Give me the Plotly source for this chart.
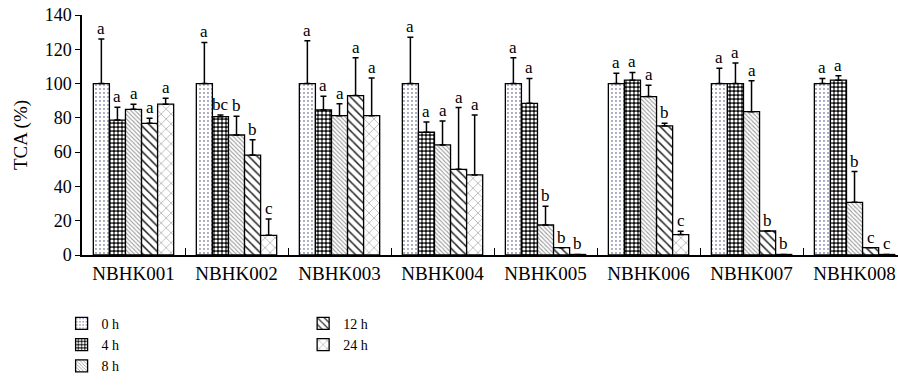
import plotly.graph_objects as go

cats = ["NBHK001", "NBHK002", "NBHK003", "NBHK004", "NBHK005", "NBHK006", "NBHK007", "NBHK008"]
series_names = ["0 h", "4 h", "8 h", "12 h", "24 h"]

h0 = [100, 100, 100, 100, 100, 100, 100, 100]
h0_err = [26, 24, 25, 27, 15, 6, 9, 3]
h4 = [78.7, 80.7, 84.6, 71.6, 88.5, 102, 100, 102]
h4_err = [7.5, 1, 8, 6, 14.5, 4.5, 12, 2.5]
h8 = [85, 70, 81.3, 64.2, 17.5, 92.4, 83.6, 30.7]
h8_err = [3, 11, 7, 14, 11, 6.6, 18, 18]
h12 = [76.8, 58.3, 93, 50, 4.3, 75.3, 14, 4.3]
h12_err = [3, 9, 22, 36, 0, 1.5, 0, 0]
h24 = [88, 11.5, 81.3, 46.7, 0.3, 11.9, 0.3, 0.3]
h24_err = [3.5, 9.5, 22, 35, 0, 2, 0, 0]

let0 = ["a", "a", "a", "a", "a", "a", "a", "a"]
let4 = ["a", "bc", "a", "a", "a", "a", "a", "a"]
let8 = ["a", "b", "a", "a", "b", "a", "a", "b"]
let12 = ["a", "b", "a", "a", "b", "b", "b", "c"]
let24 = ["a", "c", "a", "a", "b", "c", "b", "c"]

y_ticks = [0, 20, 40, 60, 80, 100, 120, 140]

values = [h0, h4, h8, h12, h24]
errors = [h0_err, h4_err, h8_err, h12_err, h24_err]
letters = [let0, let4, let8, let12, let24]

FONT = "Liberation Serif, Times New Roman, serif"

patterns = [
    dict(shape=".", fgcolor="#8f8fb0", bgcolor="white", size=4, solidity=0.18, fillmode="replace"),
    dict(shape=".", fgcolor="white", bgcolor="#111111", size=4, solidity=0.5, fillmode="replace"),
    dict(shape="\\", fgcolor="#9a9a9a", bgcolor="white", size=3, solidity=0.35, fillmode="replace"),
    dict(shape="\\", fgcolor="#222222", bgcolor="white", size=6, solidity=0.25, fillmode="replace"),
    dict(shape="x", fgcolor="#8a8a8a", bgcolor="white", size=7, solidity=0.15, fillmode="replace"),
]
legends = ["legend", "legend", "legend", "legend2", "legend2"]

fig = go.Figure()
for i in range(5):
    fig.add_trace(go.Bar(
        x=cats, y=values[i], name=series_names[i],
        marker=dict(color="white", pattern=patterns[i], line=dict(color="black", width=1.3)),
        error_y=dict(type="data", array=errors[i], arrayminus=[0] * len(cats), symmetric=False,
                     color="black", thickness=1.5, width=3),
        legend=legends[i],
    ))

bargap = 0.22
bw = (1 - bargap) / 5
annotations = []
for i in range(5):
    for g in range(len(cats)):
        annotations.append(dict(
            x=g + (i - 2) * bw, y=values[i][g] + errors[i][g], xref="x", yref="y",
            text=letters[i][g], showarrow=False, yanchor="bottom", xanchor="center",
            font=dict(family=FONT, size=17, color="black"), yshift=-1,
        ))

fig.update_layout(
    width=898, height=385,
    margin=dict(l=82, r=0, t=15, b=130),
    paper_bgcolor="white", plot_bgcolor="white",
    barmode="group", bargap=bargap, bargroupgap=0,
    font=dict(family=FONT, size=17, color="black"),
    showlegend=True,
    legend=dict(x=-0.025, y=-0.22, xanchor="left", yanchor="top", orientation="v",
                font=dict(family=FONT, size=14), bgcolor="rgba(0,0,0,0)", tracegroupgap=0),
    legend2=dict(x=0.271, y=-0.22, xanchor="left", yanchor="top", orientation="v",
                 font=dict(family=FONT, size=14), bgcolor="rgba(0,0,0,0)", tracegroupgap=0),
    annotations=annotations,
)
fig.update_xaxes(
    type="category", range=[-0.5, 7.422], showline=True, linecolor="black", linewidth=2,
    ticks="inside", tickson="boundaries", ticklen=7, tickwidth=1.3, tickcolor="black",
    showgrid=False, zeroline=False, tickfont=dict(family=FONT, size=19),
)
fig.update_yaxes(
    range=[0, 140], tickvals=y_ticks, showline=True, linecolor="black", linewidth=1.5,
    ticks="outside", ticklen=5, tickwidth=1.3, tickcolor="black", showgrid=False, zeroline=False,
    tickfont=dict(family=FONT, size=18),
    title=dict(text="TCA (%)", font=dict(family=FONT, size=19), standoff=12),
)

fig.write_html("out.html")
